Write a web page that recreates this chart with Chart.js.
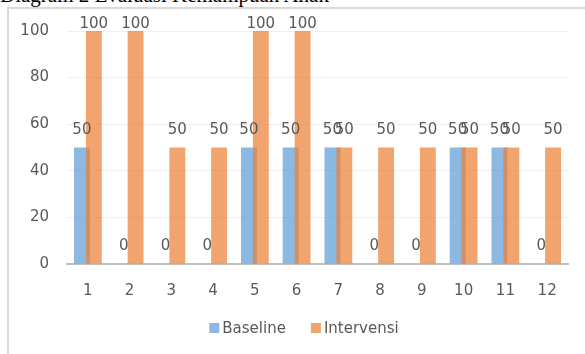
<!DOCTYPE html>
<html>
<head>
<meta charset="utf-8">
<script src="https://cdn.jsdelivr.net/npm/chart.js@4/dist/chart.umd.min.js"></script>
<style>
  html, body { margin: 0; padding: 0; width: 585px; height: 354px; overflow: hidden; background: #fff; }
  #title {
    position: absolute; left: 0; top: -15px; white-space: nowrap;
    font-family: "Liberation Serif", serif; font-size: 21px; line-height: 20px; color: #000;
  }
  #frame {
    position: absolute; left: 7px; top: 7px; width: 700px; height: 500px;
    border-left: 2px solid #d9d9d9; border-top: 2px solid #d9d9d9;
  }
  #box { position: absolute; left: 9px; top: 9px; width: 590px; height: 345px; }
</style>
</head>
<body>
<div id="title">Diagram 2 Evaluasi Kemampuan Anak</div>
<div id="frame"></div>
<div id="box"><canvas id="chart"></canvas></div>
<script>
// Sessions 1-12, scores per phase
const sessions = ['1', '2', '3', '4', '5', '6', '7', '8', '9', '10', '11', '12'];
const baseline = [50, 0, 0, 0, 50, 50, 50, 0, 0, 50, 50, 0];
const intervensi = [100, 100, 50, 50, 100, 100, 50, 50, 50, 50, 50, 50];
const yTicks = [0, 20, 40, 60, 80, 100];

const textColor = '#595959';
const fontFamily = '"DejaVu Sans", sans-serif';
const fontSize = 15;

// The Intervensi bars are painted after the Baseline bars so they sit on top
// where the pair overlaps; every bar gets its value written above it, and the
// legend is laid out below the axis labels.
const barOverlay = {
  id: 'barOverlay',
  beforeDatasetDraw(chart, args) {
    if (args.index === 1) return false;
  },
  afterDatasetsDraw(chart) {
    chart.getDatasetMeta(1).controller.draw();

    const ctx = chart.ctx;
    const top = chart.chartArea.top;
    ctx.save();
    ctx.font = fontSize + 'px ' + fontFamily;
    ctx.fillStyle = textColor;
    ctx.textAlign = 'center';
    ctx.textBaseline = 'alphabetic';
    chart.data.datasets.forEach((ds, di) => {
      const meta = chart.getDatasetMeta(di);
      meta.data.forEach((bar, i) => {
        const y = Math.max(bar.y - 14, top - 3);
        ctx.fillText(String(ds.data[i]), bar.x, y);
      });
    });
    ctx.restore();
  },
  afterDraw(chart) {
    const ctx = chart.ctx;
    const box = 10, gap = 3, spacing = 25;
    const centerX = 295, centerY = 319;
    ctx.save();
    ctx.font = fontSize + 'px ' + fontFamily;
    const items = chart.data.datasets.map(ds => ({
      text: ds.label, color: ds.backgroundColor, w: ctx.measureText(ds.label).width
    }));
    const total = items.reduce((s, it) => s + box + gap + it.w, 0) + spacing * (items.length - 1);
    let x = centerX - total / 2;
    ctx.textBaseline = 'middle';
    ctx.textAlign = 'left';
    items.forEach(it => {
      ctx.fillStyle = it.color;
      ctx.fillRect(x, centerY - box / 2, box, box);
      ctx.fillStyle = textColor;
      ctx.fillText(it.text, x + box + gap, centerY + 1);
      x += box + gap + it.w + spacing;
    });
    ctx.restore();
  }
};

new Chart(document.getElementById('chart'), {
  type: 'bar',
  data: {
    labels: sessions,
    datasets: [
      { label: 'Baseline', data: baseline, backgroundColor: 'rgba(91,155,213,0.7)' },
      { label: 'Intervensi', data: intervensi, backgroundColor: 'rgba(237,125,49,0.7)' }
    ]
  },
  options: {
    responsive: true,
    maintainAspectRatio: false,
    animation: false,
    categoryPercentage: 0.571,
    barPercentage: 1.333,
    layout: { padding: { left: 0, right: 31, top: 22, bottom: 48 } },
    scales: {
      x: {
        grid: { display: false, drawTicks: false },
        border: { display: true, color: '#bfbfbf', width: 2 },
        ticks: { color: textColor, font: { family: fontFamily, size: fontSize }, padding: 18 },
        afterFit(scale) { scale.height = 42; }
      },
      y: {
        min: 0,
        max: 100,
        afterBuildTicks(scale) { scale.ticks = yTicks.map(v => ({ value: v })); },
        grid: { color: '#efefef', lineWidth: 1, drawTicks: true, tickLength: 18, tickColor: 'rgba(0,0,0,0)' },
        border: { display: false },
        ticks: { color: textColor, font: { family: fontFamily, size: fontSize }, padding: 0 },
        afterFit(scale) { scale.width = 58; }
      }
    },
    plugins: {
      legend: { display: false },
      tooltip: { enabled: false }
    }
  },
  plugins: [barOverlay]
});
</script>
</body>
</html>
